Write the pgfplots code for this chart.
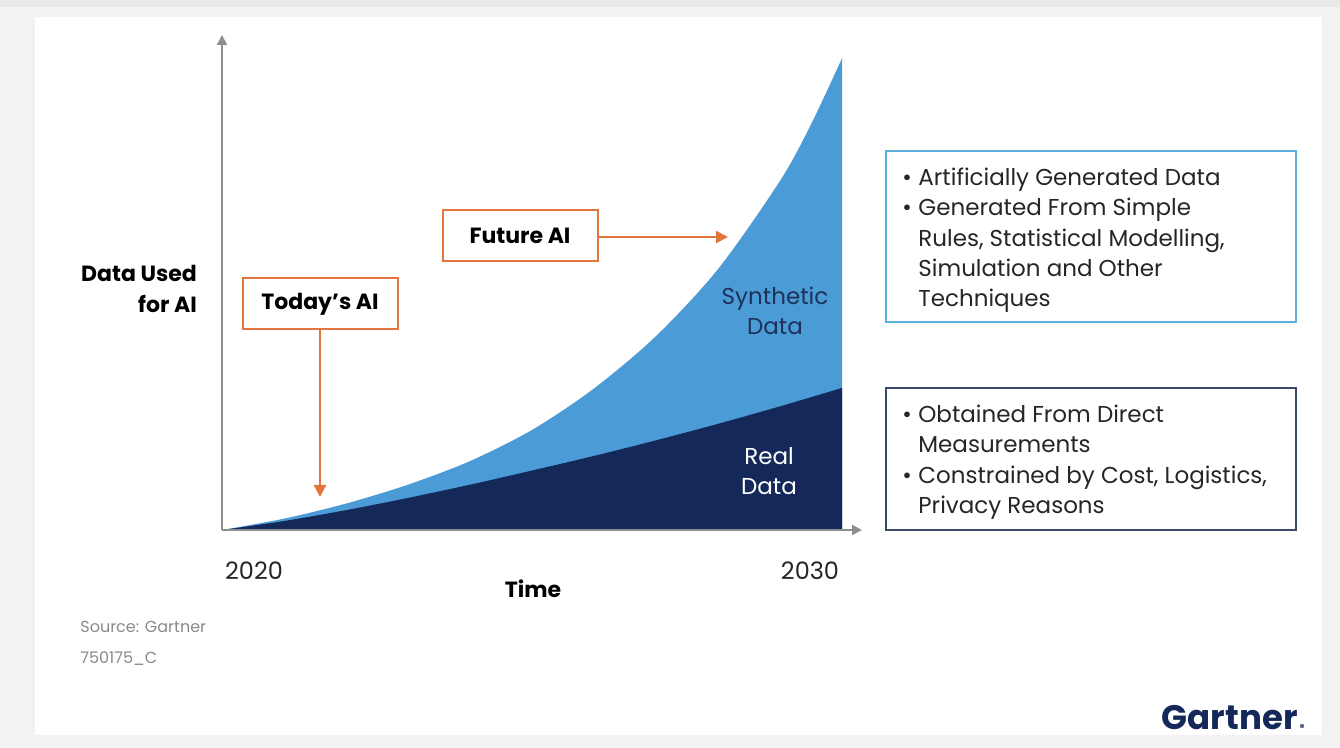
\documentclass[border=0pt]{standalone}
\usepackage{pgfplots}
\pgfplotsset{compat=1.18}
\usepackage{fontspec}
\setmainfont{Poppins}
\usetikzlibrary{arrows.meta}
\definecolor{synth}{HTML}{4A9BD6}
\definecolor{real}{HTML}{14295A}
\definecolor{orng}{HTML}{E2743D}
\definecolor{axgray}{HTML}{8E8E8E}
\definecolor{boxone}{HTML}{5BB2D9}
\definecolor{boxtwo}{HTML}{3B4A68}
\definecolor{navytxt}{HTML}{1E3158}
\definecolor{srcgray}{HTML}{8A8A8A}
\newcommand\bodyfont{\fontsize{11.5}{15}\selectfont}
\newcommand\boldlab{\bfseries\fontsize{11}{15.5}\selectfont}
\begin{document}
\begin{tikzpicture}
\begin{scope}[x=0.5pt,y=-0.5pt]
  \fill[black!5] (0,0) rectangle (1340,748);
  \fill[black!9] (0,0) rectangle (1340,7);
  \fill[white] (35,17) rectangle (1322,735);
\end{scope}
\begin{axis}[at={(111pt,-265pt)}, anchor=south west, scale only axis,
  width=320pt, height=247.5pt,
  xmin=2020, xmax=2030.32, ymin=0, ymax=104.87,
  axis lines=left, axis on top,
  axis line style={axgray, line width=1pt, -{Triangle[length=5pt,width=5pt]}},
  xtick=\empty, ytick=\empty, clip=false]
\addplot[fill=synth, draw=none, smooth] coordinates {
 (2020,0) (2021,2.4) (2022,5.6) (2023,9.6) (2024,14.6) (2025,21.2) (2026,30.0)
 (2027,41.1) (2028,55.3) (2029,74.0) (2029.5,86.0) (2030,100)} \closedcycle;
\addplot[fill=real, draw=none, smooth] coordinates {
 (2020,0) (2021,1.9) (2022,4.2) (2023,6.8) (2024,9.6) (2025,12.6) (2026,15.7)
 (2027,19.0) (2028,22.5) (2029,26.2) (2030,30.1)} \closedcycle;
\end{axis}
\begin{scope}[x=0.5pt,y=-0.5pt]
  % y label
  \node[font=\boldlab, align=right, anchor=east] at (204,289) {Data Used\\for AI};
  % Today's AI
  \draw[orng, line width=1pt] (243,278) rectangle (398,329);
  \node[font=\boldlab] at (320,304) {Today’s AI};
  \draw[orng, line width=1pt, -{Triangle[length=6pt,width=6pt]}] (320,329) -- (320,497);
  % Future AI
  \draw[orng, line width=1pt] (443,210) rectangle (598,261);
  \node[font=\boldlab] at (520,236) {Future AI};
  \draw[orng, line width=1pt, -{Triangle[length=6pt,width=6pt]}] (598,237) -- (728,237);
  % area labels
  \node[font=\bodyfont, align=center, text=navytxt] at (775,311) {Synthetic\\Data};
  \node[font=\bodyfont, align=center, text=white] at (769,471) {Real\\Data};
  % x labels
  \node[font=\fontsize{12}{14}\selectfont, anchor=base, text=black!85] at (254,580) {2020};
  \node[font=\fontsize{12}{14}\selectfont, anchor=base, text=black!85] at (810,580) {2030};
  \node[font=\boldlab, anchor=base] at (533,598) {Time};
  % box 1
  \draw[boxone, line width=1pt] (886,151) rectangle (1296,322);
  \foreach \yy/\tx in {186/{Artificially Generated Data},216/{Generated From Simple},247/{Rules, Statistical Modelling,},277/{Simulation and Other},307/{Techniques}}{
    \node[font=\bodyfont, anchor=base west, inner sep=0pt, text=black!85] at (918,\yy) {\tx};}
  \node[font=\bodyfont, anchor=base west, inner sep=0pt, text=black!85] at (902,186) {•};
  \node[font=\bodyfont, anchor=base west, inner sep=0pt, text=black!85] at (902,216) {•};
  % box 2
  \draw[boxtwo, line width=1pt] (886,388) rectangle (1296,530);
  \foreach \yy/\tx in {423/{Obtained From Direct},453/{Measurements},484/{Constrained by Cost, Logistics,},514/{Privacy Reasons}}{
    \node[font=\bodyfont, anchor=base west, inner sep=0pt, text=black!85] at (918,\yy) {\tx};}
  \node[font=\bodyfont, anchor=base west, inner sep=0pt, text=black!85] at (902,423) {•};
  \node[font=\bodyfont, anchor=base west, inner sep=0pt, text=black!85] at (902,484) {•};
  % source
  \node[font=\fontsize{8}{10}\selectfont, anchor=base west, inner sep=0pt, text=srcgray] at (80,633) {Source: Gartner};
  \node[font=\fontsize{8}{10}\selectfont, anchor=base west, inner sep=0pt, text=srcgray] at (80,664) {750175\_C};
  % logo
  \node[font=\bfseries\fontsize{17}{20}\selectfont, anchor=base east, inner sep=0pt, text=real] at (1298,729) {Gartner};
  \fill[real!70] (1302,726) circle (2.2);
\end{scope}
\end{tikzpicture}
\end{document}
